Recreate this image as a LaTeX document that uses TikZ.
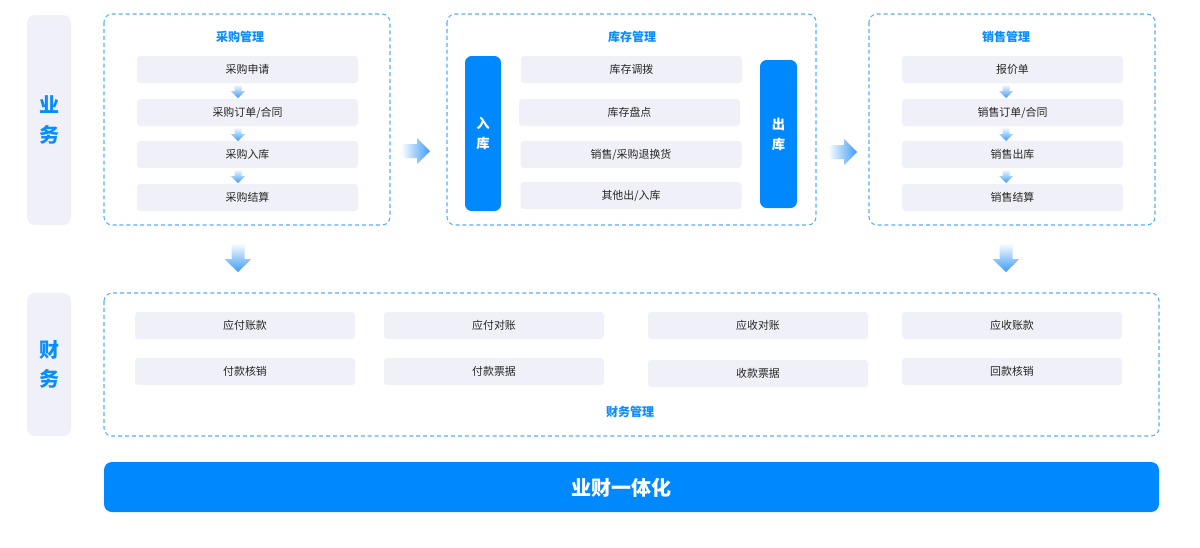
\documentclass[tikz,border=0pt]{standalone}
\usepackage{fontspec}
\setmainfont{Noto Sans CJK SC}
\definecolor{mainblue}{HTML}{0A8CFF}
\definecolor{barblue}{HTML}{0088FF}
\definecolor{dashblue}{HTML}{55B0FF}
\definecolor{itemgray}{HTML}{F0F0F8}
\definecolor{sidegray}{HTML}{EFF0F8}
\definecolor{txtdark}{HTML}{262626}
\definecolor{arrowblue}{HTML}{3D9BF5}
\begin{document}
\begin{tikzpicture}[x=0.75pt,y=-0.75pt,
  item/.style={rounded corners=2.5pt, fill=itemgray, minimum width=221*0.75pt, minimum height=27*0.75pt, inner sep=0pt, text=txtdark, font=\fontsize{8.2pt}{10pt}\selectfont},
  groupbox/.style={draw=dashblue, line width=0.8pt, dash pattern=on 3pt off 2.2pt, rounded corners=6pt},
  grouptitle/.style={text=mainblue, font=\fontsize{9pt}{11pt}\selectfont\bfseries},
  sidebox/.style={rounded corners=6pt, fill=sidegray, minimum width=44*0.75pt, inner sep=0pt, text=mainblue, align=center, font=\fontsize{15pt}{22pt}\selectfont\bfseries},
  vbar/.style={rounded corners=5pt, fill=barblue, inner sep=0pt, text=white, align=center, font=\fontsize{10pt}{15pt}\selectfont\bfseries},
  garrow/.style={shading=axis, top color=white, bottom color=arrowblue},
  harrow/.style={shading=axis, left color=white, right color=arrowblue}
]
\useasboundingbox (0,0) rectangle (1200,547);
\fill[white] (0,0) rectangle (1200,547);

% side labels
\node[sidebox, minimum height=210*0.75pt] (biz) at (49,120) {业\\务};
\node[sidebox, minimum height=143*0.75pt] (fin) at (49,364.5) {财\\务};

% purchase group
\draw[groupbox] (104,14) rectangle (390,225);
\node[grouptitle] (ptitle) at (240,37) {采购管理};
\node[item] (p1) at (247.5,69.5) {采购申请};
\node[item] (p2) at (247.5,112.5) {采购订单/合同};
\node[item] (p3) at (247.5,154.5) {采购入库};
\node[item] (p4) at (247.5,197.5) {采购结算};

% inventory group
\draw[groupbox] (447,14) rectangle (816,225);
\node[grouptitle] (ititle) at (632,37) {库存管理};
\node[vbar, minimum width=36*0.75pt, minimum height=155*0.75pt] (inb) at (483,133.5) {入\\库};
\node[vbar, minimum width=37*0.75pt, minimum height=148*0.75pt] (outb) at (778.5,134) {出\\库};
\node[item] (i1) at (631.5,69.5) {库存调拨};
\node[item] (i2) at (629.5,112.5) {库存盘点};
\node[item] (i3) at (631,154.5) {销售/采购退换货};
\node[item] (i4) at (631,195.5) {其他出/入库};

% sales group
\draw[groupbox] (869,14) rectangle (1155,225);
\node[grouptitle] (stitle) at (1006,37) {销售管理};
\node[item] (s1) at (1012.5,69.5) {报价单};
\node[item] (s2) at (1012.5,112.5) {销售订单/合同};
\node[item] (s3) at (1012.5,154.5) {销售出库};
\node[item] (s4) at (1012.5,197.5) {销售结算};

% small down arrows inside purchase and sales
\foreach \cx/\ya in {238/84, 238/127, 238/169, 1006/84, 1006/127, 1006/169}{
  \shade[garrow] (\cx-3.5,\ya) -- (\cx+3.5,\ya) -- (\cx+3.5,\ya+7) -- (\cx+7,\ya+7) -- (\cx,\ya+14) -- (\cx-7,\ya+7) -- (\cx-3.5,\ya+7) -- cycle;
}

% right arrows between groups
\foreach \xa/\cy in {401/151, 828/152}{
  \shade[harrow] (\xa,\cy-7) -- (\xa+16,\cy-7) -- (\xa+16,\cy-13) -- (\xa+29,\cy) -- (\xa+16,\cy+13) -- (\xa+16,\cy+7) -- (\xa,\cy+7) -- cycle;
}

% big down arrows to finance
\foreach \cx in {238,1006}{
  \shade[garrow] (\cx-6.5,243) -- (\cx+6.5,243) -- (\cx+6.5,259) -- (\cx+13.5,259) -- (\cx,272) -- (\cx-13.5,259) -- (\cx-6.5,259) -- cycle;
}

% finance group
\draw[groupbox] (104,293) rectangle (1159,436);
\node[item, minimum width=220*0.75pt] (f1) at (245,325.5) {应付账款};
\node[item, minimum width=220*0.75pt] (f2) at (494,325.5) {应付对账};
\node[item, minimum width=220*0.75pt] (f3) at (758,325.5) {应收对账};
\node[item, minimum width=220*0.75pt] (f4) at (1012,325.5) {应收账款};
\node[item, minimum width=220*0.75pt] (f5) at (245,371.5) {付款核销};
\node[item, minimum width=220*0.75pt] (f6) at (494,371.5) {付款票据};
\node[item, minimum width=220*0.75pt] (f7) at (758,373.5) {收款票据};
\node[item, minimum width=220*0.75pt] (f8) at (1012,371.5) {回款核销};
\node[grouptitle] (ftitle) at (630,412) {财务管理};

% bottom bar
\node[rounded corners=6pt, fill=barblue, minimum width=1055*0.75pt, minimum height=50*0.75pt, inner sep=0pt] (bar) at (631.5,487) {};
\node[text=white, font=\fontsize{15pt}{18pt}\selectfont\bfseries] (bartext) at (621.5,488) {业财一体化};
\end{tikzpicture}
\end{document}
